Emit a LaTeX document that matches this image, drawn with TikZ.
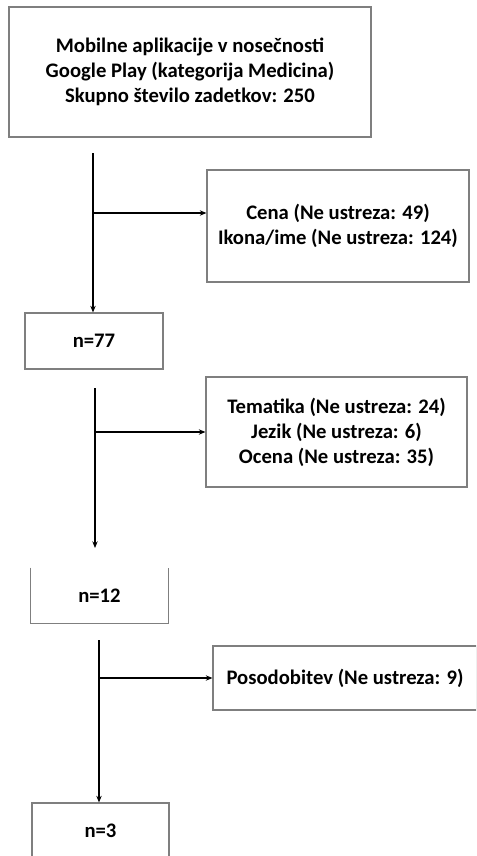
\documentclass[tikz,border=0pt]{standalone}
\usepackage{fontspec}
\setmainfont{Carlito}
\usetikzlibrary{arrows.meta}
\definecolor{BoxGray}{HTML}{7F7F7F}

\begin{document}
\begin{tikzpicture}[x=0.75pt,y=-0.75pt,
  font=\fontsize{15.5}{18.75}\selectfont\bfseries,
  box/.style={draw=BoxGray,line width=0.8pt,inner sep=0pt,align=center},
  flow/.style={line width=1.1pt,-{Stealth[length=5pt,width=4pt]}}]
\useasboundingbox (0,0) rectangle (476,856);
\clip (0,0) rectangle (476,856);
\node[box,minimum width=271.5pt,minimum height=97.5pt] (total) at (190,72)
  {Mobilne aplikacije v nosečnosti\\Google Play (kategorija Medicina)\\Skupno število zadetkov: 250};
\node[box,minimum width=196.5pt,minimum height=84pt] (excl1) at (338,226)
  {Cena (Ne ustreza: 49)\\Ikona/ime (Ne ustreza: 124)};
\node[box,minimum width=103.5pt,minimum height=42pt] (n77) at (94,341) {n=77};
\node[box,minimum width=195.75pt,minimum height=82.5pt] (excl2) at (336.5,432)
  {Tematika (Ne ustreza: 24)\\Jezik (Ne ustreza: 6)\\Ocena (Ne ustreza: 35)};
\node[minimum width=102.75pt,minimum height=41.25pt,inner sep=0pt] (n12) at (99.5,595.5) {n=12};
\draw[BoxGray,line width=0.8pt] (n12.north west) -- (n12.south west) -- (n12.south east) -- (n12.north east);
\node[box,minimum width=198pt,minimum height=48pt] (excl3) at (345,678) {Posodobitev (Ne ustreza: 9)};
\node[box,minimum width=102.75pt,minimum height=42pt] (n3) at (100.5,831) {n=3};
% flow lines
\coordinate (s1) at (93,153);
\coordinate (b1) at (93,213);
\coordinate (s2) at (95,388);
\coordinate (b2) at (95,432);
\coordinate (e2) at (95,548);
\coordinate (s3) at (99,640);
\coordinate (b3) at (99,678);
\draw[flow] (s1) -- (s1 |- n77.north);
\draw[flow] (b1) -- (b1 -| excl1.west);
\draw[flow] (s2) -- (e2);
\draw[flow] (b2) -- (b2 -| excl2.west);
\draw[flow] (s3) -- (s3 |- n3.north);
\draw[flow] (b3) -- (b3 -| excl3.west);
\end{tikzpicture}
\end{document}
